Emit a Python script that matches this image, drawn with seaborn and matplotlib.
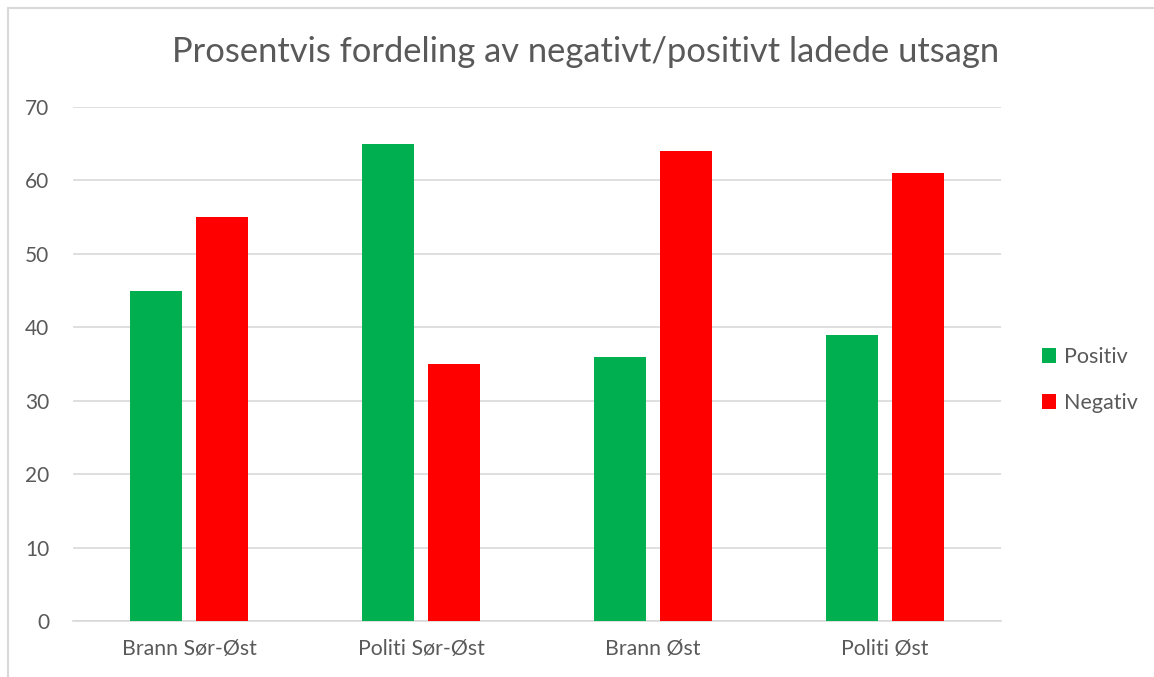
import matplotlib
matplotlib.use("Agg")
import matplotlib.pyplot as plt
from matplotlib.lines import Line2D
from matplotlib.patches import Patch
import seaborn as sns
import pandas as pd

categories = ["Brann Sør-Øst", "Politi Sør-Øst", "Brann Øst", "Politi Øst"]
positiv = [45, 65, 36, 39]
negativ = [55, 35, 64, 61]
series = ["Positiv", "Negativ"]
colors = {"Positiv": "#00B050", "Negativ": "#FF0000"}
title = "Prosentvis fordeling av negativt/positivt ladede utsagn"

df = pd.DataFrame({
    "Kategori": categories * 2,
    "Serie": ["Positiv"] * len(categories) + ["Negativ"] * len(categories),
    "Verdi": positiv + negativ,
})

sns.set_theme(style="white")
plt.rcParams["font.family"] = ["Lato", "DejaVu Sans"]
txt = "#595959"
grid = "#D9D9D9"

fig = plt.figure(figsize=(11.54, 6.77), dpi=100)
ax = fig.add_axes([73 / 1154, 1 - 621 / 677, (1001 - 73) / 1154, (621 - 107) / 677])

sns.barplot(data=df, x="Kategori", y="Verdi", hue="Serie", hue_order=series,
            order=categories, palette=colors, width=0.569, gap=0.21,
            saturation=1, ax=ax, legend=False, zorder=3, linewidth=0)

ax.set_ylim(0, 70)
ax.set_xlim(-0.5, len(categories) - 0.5)
ax.set_yticks(range(0, 71, 10))
ax.yaxis.grid(True, color=grid, linewidth=1.2, zorder=0)
ax.set_axisbelow(True)
for s in ["top", "right", "left"]:
    ax.spines[s].set_visible(False)
ax.spines["bottom"].set_color(grid)
ax.spines["bottom"].set_linewidth(1.2)
ax.set_xlabel("")
ax.set_ylabel("")
ax.tick_params(axis="y", length=0, labelsize=15, labelcolor=txt, pad=17)
ax.tick_params(axis="x", which="major", length=0, labelsize=15.3, labelcolor=txt, pad=13)
ax.set_xticks([i - 0.5 for i in range(len(categories) + 1)], minor=True)
ax.tick_params(axis="x", which="minor", length=6, color=grid, width=1.2)

fig.text(586 / 1154, 1 - 52 / 677, title, ha="center", va="center",
         fontsize=24.8, color=txt)

handles = [Patch(facecolor=colors[s], edgecolor="none", label=s) for s in series]
fig.legend(handles=handles, loc="center left", bbox_to_anchor=(1023 / 1154, 1 - 380 / 677),
           frameon=False, fontsize=15.5, labelcolor=txt, handlelength=0.65, handleheight=0.65,
           handletextpad=0.35, labelspacing=1.2)

fig.add_artist(Line2D([8 / 1154, 1.0], [1 - 8 / 677, 1 - 8 / 677], color=grid, linewidth=1.5,
                      transform=fig.transFigure))
fig.add_artist(Line2D([8 / 1154, 8 / 1154], [0, 1 - 8 / 677], color=grid, linewidth=1.5,
                      transform=fig.transFigure))

fig.savefig("out.png", dpi=100)
